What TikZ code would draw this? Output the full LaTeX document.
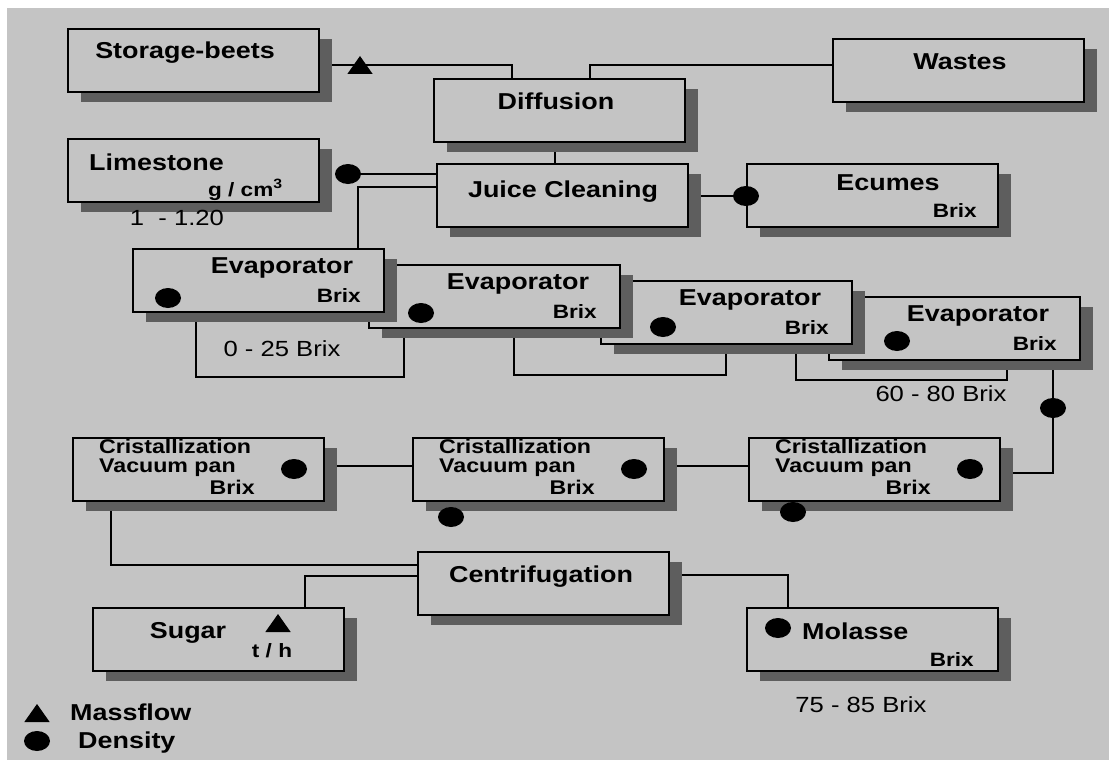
\documentclass[tikz,border=0pt]{standalone}
\usepackage{fontspec}
\setmainfont{Liberation Sans}
\usetikzlibrary{shapes.geometric,shadows,backgrounds,calc}
\definecolor{panel}{RGB}{196,196,196}
\definecolor{shadowgray}{RGB}{94,94,94}

\begin{document}
\begin{tikzpicture}[x=1pt, y=-1pt,
    box/.style={rectangle, draw, line width=2.2pt, fill=panel, minimum width=251pt, minimum height=63pt,
                anchor=north west, inner sep=0pt,
                drop shadow={shadow xshift=13pt, shadow yshift=-10pt, fill=shadowgray, opacity=1}},
    lbl/.style={font=\bfseries\fontsize{23}{25}\selectfont, xscale=1.17, inner sep=0pt},
    sub/.style={font=\bfseries\fontsize{19.3}{21}\selectfont, xscale=1.17, inner sep=0pt, anchor=east},
    cri/.style={font=\bfseries\fontsize{19.8}{19.5}\selectfont, xscale=1.17, inner sep=0pt, anchor=west, align=left},
    val/.style={font=\fontsize{21.9}{24}\selectfont, xscale=1.17, inner sep=0pt},
    dens/.style={ellipse, fill, inner sep=0pt, minimum width=26pt, minimum height=20pt},
    mflow/.style={regular polygon, regular polygon sides=3, fill, inner sep=0pt, minimum size=24pt, xscale=1.22},
    link/.style={line width=1.8pt}
]
    \useasboundingbox (0,0) rectangle (1109,760);

    % Top row
    \node[box] (sb) at (67,28) {};
    \node[lbl] (sb-t) at (185,53) {Storage-beets};
    \node[box] (wst) at (832,38) {};
    \node[lbl] (wst-t) at (960,62) {Wastes};
    \node[box] (dif) at (433,78) {};
    \node[lbl] (dif-t) at (556,101) {Diffusion};

    % Cleaning
    \node[box] (lim) at (67,138) {};
    \node[lbl, anchor=west] (lim-t) at (89,162) {Limestone};
    \node[sub] (lim-u) at (283,190) {g / cm\textsuperscript{3}};
    \node[val] (lim-v) at (177,218) {1\ \ - 1.20};
    \node[box] (jc) at (436,163) {};
    \node[lbl] (jc-t) at (563,192) {Juice Cleaning};
    \node[box] (ecu) at (746,163) {};
    \node[lbl] (ecu-t) at (888,183) {Ecumes};
    \node[sub] (ecu-u) at (977,211) {Brix};

    % Evaporators, drawn back to front
    \foreach \i/\x/\y/\dx/\dy in {4/828/296/69/45, 3/600/280/63/47, 2/368/264/53/49, 1/132/248/36/50} {
        \node[box] (e\i) at (\x,\y) {};
        \node[lbl] (e\i-t) at (\x+150,\y+20) {Evaporator};
        \node[sub] (e\i-u) at (\x+229,\y+48) {Brix};
        \node[dens] (e\i-d) at (\x+\dx,\y+\dy) {};
    }
    \node[val] (v1) at (282,349) {0 - 25 Brix};
    \node[val] (v3) at (941,394) {60 - 80 Brix};

    % Vacuum pans
    \foreach \i/\x in {1/72, 2/412, 3/748} {
        \node[box] (c\i) at (\x,437) {};
        \node[cri] (c\i-a) at (\x+27,458) {Cristallization\\Vacuum pan};
        \node[cri, anchor=east] (c\i-u) at (\x+183,487) {Brix};
        \node[dens] (c\i-d) at (\x+222,469) {};
    }
    \node[dens] (c2-e) at (451,517) {};
    \node[dens] (c3-e) at (793,512) {};

    % Separation
    \node[box] (cen) at (417,551) {};
    \node[lbl] (cen-t) at (541,577) {Centrifugation};
    \node[box] (sug) at (92,607) {};
    \node[lbl] (sug-t) at (188,633) {Sugar};
    \node[mflow] (sug-m) at (278,626) {};
    \node[sub, anchor=center] (sug-u) at (272,651) {t / h};
    \node[box] (mol) at (746,607) {};
    \node[dens] (mol-d) at (778,628) {};
    \node[lbl, anchor=west] (mol-t) at (802,631) {Molasse};
    \node[sub] (mol-u) at (974,660) {Brix};
    \node[val] (mol-v) at (861,705) {75 - 85 Brix};

    % Sensors on the lines
    \node[dens] (lim-d) at (348,174) {};
    \node[dens] (ecu-d) at (746,196) {};
    \node[dens] (e4-c) at (1053,408) {};
    \node[mflow] (sb-m) at (360,68) {};

    % Key
    \node[mflow] (key-m) at (37,716) {};
    \node[lbl, anchor=west] (key-mt) at (70,712) {Massflow};
    \node[dens] (key-d) at (37,741) {};
    \node[lbl, anchor=west] (key-dt) at (78,743) {Density};

    % Piping behind the boxes
    \begin{pgfonlayer}{background}
        \fill[panel] (7,8) rectangle (1109,760);
        \draw[link] ($(sb.north east)+(0,37)$) -| ($(dif.north west)+(79,0)$);
        \draw[link] ($(dif.north west)+(157,0)$) |- ($(wst.north west)+(0,27)$);
        \draw[link] ($(dif.south west)+(122,0)$) -- ($(jc.north west)+(119,0)$);
        \draw[link] (lim-d) -- ($(jc.north west)+(0,11)$);
        \draw[link] ($(jc.north west)+(0,24)$) -| ($(e1.north west)+(226,0)$);
        \draw[link] ($(jc.north east)+(0,33)$) -- (ecu-d);
        \draw[link] ($(e1.south west)+(64,0)$) -- ++(0,64) -| ($(e2.south west)+(36,0)$);
        \draw[link] ($(e2.south west)+(146,0)$) -- ++(0,46) -| ($(e3.south west)+(126,0)$);
        \draw[link] ($(e3.south west)+(196,0)$) -- ++(0,35) -| ($(e4.south west)+(179,0)$);
        \draw[link] ($(e4.south west)+(225,0)$) |- ($(c3.north east)+(0,36)$);
        \draw[link] ($(c1.north east)+(0,29)$) -- ($(c2.north west)+(0,29)$);
        \draw[link] ($(c2.north east)+(0,29)$) -- ($(c3.north west)+(0,29)$);
        \draw[link] ($(c1.south west)+(39,0)$) |- ($(cen.north west)+(0,14)$);
        \draw[link] ($(cen.north west)+(0,25)$) -| ($(sug.north west)+(213,0)$);
        \draw[link] ($(cen.north east)+(0,24)$) -| ($(mol.north west)+(42,0)$);
    \end{pgfonlayer}
\end{tikzpicture}
\end{document}
